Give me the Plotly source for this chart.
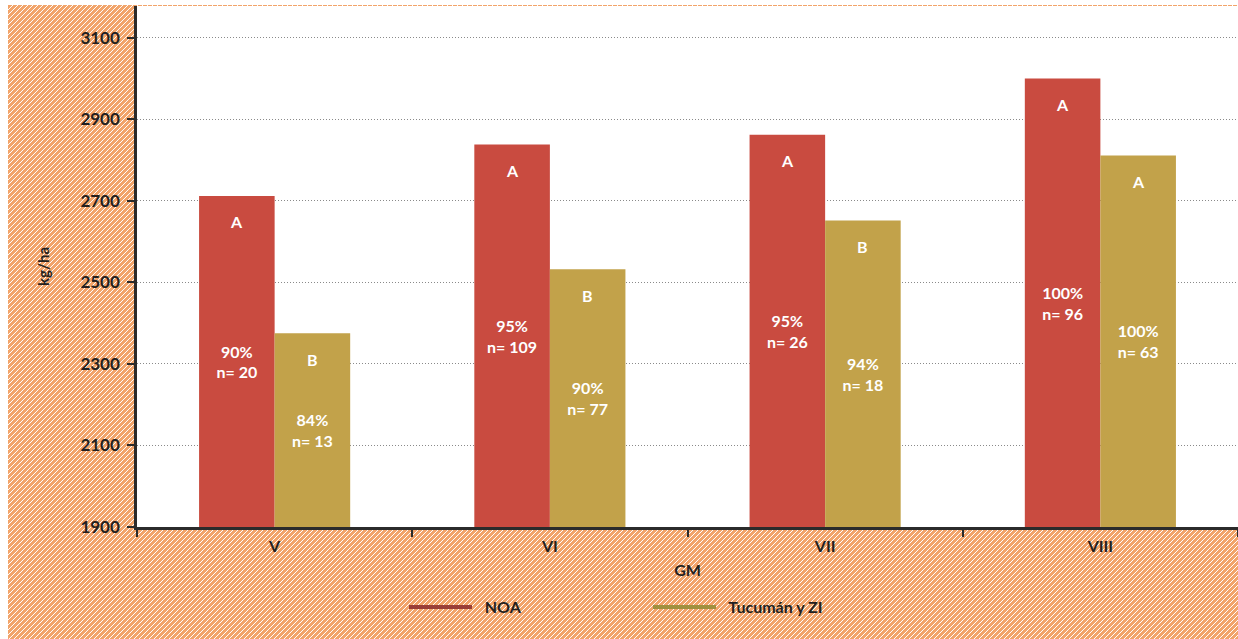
import plotly.graph_objects as go

# ---------------- data ----------------
categories = ["V", "VI", "VII", "VIII"]
noa_values = [2712, 2838, 2862, 3000]
tuc_values = [2375, 2532, 2652, 2811]
noa_letters = ["A", "A", "A", "A"]
tuc_letters = ["B", "B", "B", "A"]
noa_pct = ["90%", "95%", "95%", "100%"]
noa_n = [20, 109, 26, 96]
tuc_pct = ["84%", "90%", "94%", "100%"]
tuc_n = [13, 77, 18, 63]
y_ticks = [1900, 2100, 2300, 2500, 2700, 2900, 3100]
y_floor = 1900

# ---------------- style ----------------
W, H = 1238, 639
ML, MR, MT, MB = 137, 0, 6, 112
PW, PH = W - ML - MR, H - MT - MB
FONT = "Lato"
TXT = "#231F20"
NOA_COLOR = "#C94B40"
TUC_COLOR = "#C2A24A"
NOA_LEG = "#9A3F38"
TUC_LEG = "#A0903F"
ORANGE = "#F2A46A"
BARGAP = 0.451

def px2paper_x(px):
    return (px - ML) / PW

def px2paper_y(py):
    return (H - MB - py) / PH

fig = go.Figure()

for vals, pct, ns, color, name in [
    (noa_values, noa_pct, noa_n, NOA_COLOR, "NOA"),
    (tuc_values, tuc_pct, tuc_n, TUC_COLOR, "Tucumán y ZI"),
]:
    fig.add_trace(go.Bar(
        x=categories, y=[v - y_floor for v in vals], base=y_floor, name=name,
        marker_color=color, marker_line_width=0, showlegend=False,
        text=[f"{p}<br>n= {n}" for p, n in zip(pct, ns)],
        textposition="inside", insidetextanchor="middle",
        textfont=dict(family=FONT, size=16, color="white", weight="bold"),
        hoverinfo="skip",
    ))

# legend entries (line symbols)
fig.add_trace(go.Scatter(x=[None], y=[None], mode="lines", name="\u00a0\u00a0NOA",
                         line=dict(color=NOA_LEG, width=4)))
fig.add_trace(go.Scatter(x=[None], y=[None], mode="lines", name="\u00a0\u00a0Tucumán y ZI",
                         line=dict(color=TUC_LEG, width=4)))

# letter annotations at the top of each bar
half = (1 - BARGAP) / 4
for sign, vals, letters in [(-1, noa_values, noa_letters), (1, tuc_values, tuc_letters)]:
    for i, (v, l) in enumerate(zip(vals, letters)):
        fig.add_annotation(x=i + sign * half, y=v, xref="x", yref="y", text=l,
                           showarrow=False, yanchor="middle", yshift=-26,
                           font=dict(family=FONT, size=16, color="white", weight="bold"))

# ---------------- hatched background ----------------
shapes = []
bx0, bx1, by0, by1 = 8, W, 5, H
shapes.append(dict(type="rect", xref="paper", yref="paper", layer="below",
                   x0=px2paper_x(bx0), x1=px2paper_x(bx1),
                   y0=px2paper_y(by1), y1=px2paper_y(by0),
                   fillcolor=ORANGE, line_width=0))
step = 5
segs = []
c = bx0 + by0
while c <= bx1 + by1:
    xs = max(bx0, c - by1)
    xe = min(bx1, c - by0)
    if xe > xs:
        segs.append(f"M{px2paper_x(xs):.5f},{px2paper_y(c - xs):.5f}"
                    f"L{px2paper_x(xe):.5f},{px2paper_y(c - xe):.5f}")
    c += step
shapes.append(dict(type="path", xref="paper", yref="paper", layer="below",
                   path="".join(segs), line=dict(color="white", width=1.0)))
# white plot area on top of hatch
shapes.append(dict(type="rect", xref="paper", yref="paper", layer="below",
                   x0=0, x1=1, y0=0, y1=1, fillcolor="white", line_width=0))

fig.update_layout(
    width=W, height=H,
    margin=dict(l=ML, r=MR, t=MT, b=MB, pad=0, autoexpand=False),
    paper_bgcolor="white", plot_bgcolor="white",
    barmode="group", bargap=BARGAP, bargroupgap=0,
    shapes=shapes,
    font=dict(family=FONT, color=TXT, size=16),
    legend=dict(orientation="h", x=px2paper_x(404), xanchor="left",
                y=px2paper_y(607), yanchor="middle", itemwidth=63,
                bgcolor="rgba(0,0,0,0)", entrywidth=166,
                font=dict(family=FONT, size=16, color=TXT, weight="bold")),
    xaxis=dict(
        type="category", showline=True, linecolor="#2b2b2b", linewidth=2.5,
        ticks="outside", tickson="boundaries", ticklen=7, tickwidth=2, tickcolor="#2b2b2b",
        ticklabelstandoff=3,
        tickfont=dict(family=FONT, size=16, color=TXT, weight="bold"),
        title=dict(text="GM", standoff=11,
                   font=dict(family=FONT, size=16, color=TXT, weight="bold")),
        showgrid=False, zeroline=False, fixedrange=True,
    ),
    yaxis=dict(
        range=[y_floor, 3178], tickvals=y_ticks, showline=True, linecolor="#2b2b2b",
        linewidth=2.5, ticks="outside", ticklen=7, tickwidth=2, tickcolor="#2b2b2b",
        ticklabelstandoff=4,
        tickfont=dict(family=FONT, size=17, color=TXT, weight="bold"),
        title=dict(text="kg/ha", standoff=28,
                   font=dict(family=FONT, size=15, color=TXT, weight="bold")),
        showgrid=True, gridcolor="#8a8a8a", griddash="1px,2px", gridwidth=1,
        zeroline=False, fixedrange=True,
    ),
)

fig.write_html(
    "out.html",
    config={"displayModeBar": False},
    post_script="document.body.style.margin='0';document.body.style.overflow='hidden';",
)
